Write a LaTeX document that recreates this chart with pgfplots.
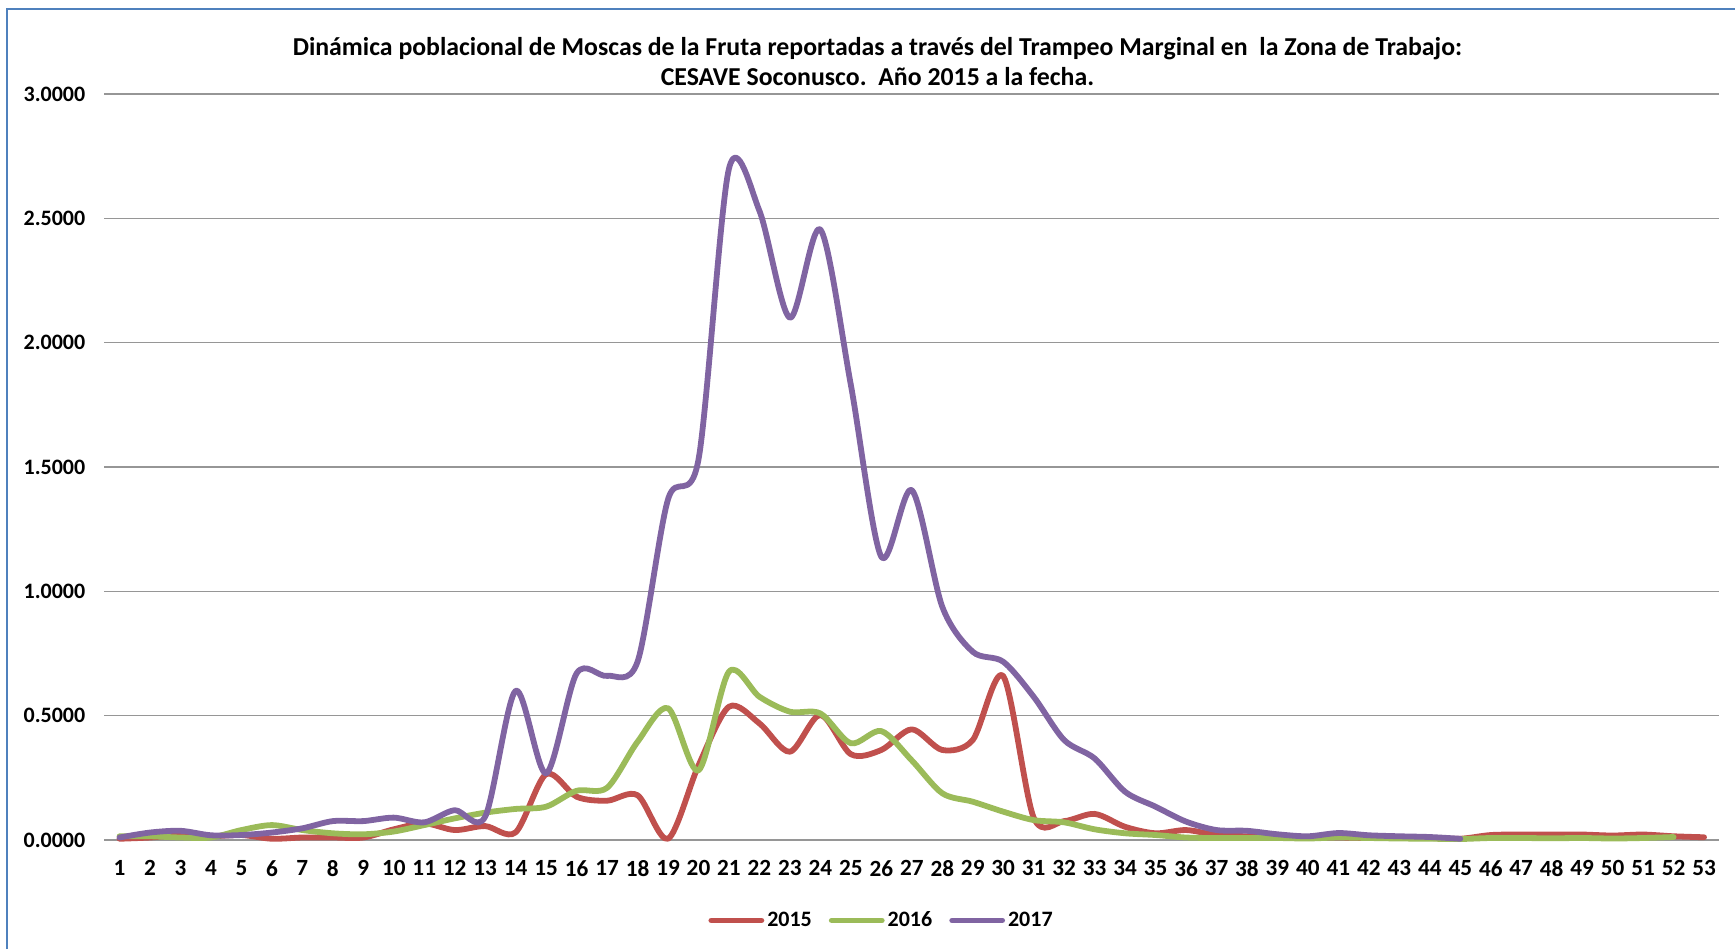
\documentclass[border=0pt]{standalone}
\usepackage{fontspec}
\setmainfont{Carlito}
\usepackage{pgfplots}
\pgfplotsset{compat=1.18}

\definecolor{s2015}{RGB}{192,80,77}
\definecolor{s2016}{RGB}{155,187,89}
\definecolor{s2017}{RGB}{128,100,162}
\definecolor{gridgray}{RGB}{150,150,150}
\definecolor{frameblue}{RGB}{79,129,189}

\begin{document}
\begin{tikzpicture}
\path[use as bounding box] (0,0) rectangle (867.5pt,474.5pt);
% chart frame (left and top edges)
\draw[frameblue, line width=1pt] (3.5pt,0pt) -- (3.5pt,470pt) -- (867.5pt,470pt);

\node[align=center, font=\fontsize{12.9}{15}\selectfont\bfseries] at (438.7pt,443.5pt)
  {Dinámica poblacional de Moscas de la Fruta reportadas a través del Trampeo Marginal en\ \ la Zona de Trabajo:\\
   CESAVE Soconusco.\ \ Año 2015 a la fecha.};

\begin{axis}[
  at={(52.15pt,54.5pt)}, anchor=south west,
  scale only axis, width=807.5pt, height=373pt,
  xmin=0.5, xmax=53.5, ymin=0, ymax=3,
  xtick={1,...,53},
  ytick={0,0.5,1,1.5,2,2.5,3},
  yticklabels={0.0000,0.5000,1.0000,1.5000,2.0000,2.5000,3.0000},
  /pgf/number format/assume math mode=true,
  yticklabel style={font=\fontsize{11}{13}\selectfont\bfseries, xshift=-6pt},
  xticklabel style={font=\fontsize{11.6}{13}\selectfont\bfseries, yshift=-6.6pt},
  axis line style={draw=none},
  tick style={draw=none},
  ymajorgrids,
  major grid style={gridgray, line width=0.75pt},
  clip=false,
  legend columns=3,
  legend style={draw=none, at={(0.4816,-0.1078)}, anchor=center,
    font=\fontsize{11}{13}\selectfont\bfseries,
    nodes={inner sep=1.5pt},
    /tikz/every even column/.append style={column sep=7pt}},
  legend image code/.code={\draw[#1] (0pt,0pt) -- (25pt,0pt);},
  every axis plot/.append style={line width=2.9pt, line cap=round, line join=round, smooth, tension=0.5},
]
% 2015
\addplot[s2015] table {
1 0.005
2 0.010
3 0.020
4 0.015
5 0.020
6 0.005
7 0.010
8 0.010
9 0.010
10 0.043
11 0.067
12 0.040
13 0.056
14 0.031
15 0.265
16 0.174
17 0.158
18 0.180
19 0.005
20 0.300
21 0.536
22 0.469
23 0.355
24 0.503
25 0.345
26 0.362
27 0.445
28 0.362
29 0.402
30 0.659
31 0.090
32 0.076
33 0.105
34 0.053
35 0.027
36 0.040
37 0.020
38 0.015
39 0.012
40 0.010
41 0.010
42 0.008
43 0.008
44 0.008
45 0.005
46 0.020
47 0.022
48 0.022
49 0.022
50 0.018
51 0.022
52 0.015
53 0.011
};
\addlegendentry{2015}
% 2016
\addplot[s2016] table {
1 0.015
2 0.015
3 0.010
4 0.010
5 0.040
6 0.060
7 0.040
8 0.027
9 0.023
10 0.034
11 0.060
12 0.087
13 0.110
14 0.125
15 0.134
16 0.198
17 0.210
18 0.395
19 0.530
20 0.280
21 0.677
22 0.576
23 0.516
24 0.509
25 0.389
26 0.438
27 0.320
28 0.188
29 0.154
30 0.114
31 0.080
32 0.071
33 0.043
34 0.027
35 0.020
36 0.010
37 0.008
38 0.008
39 0.008
40 0.006
41 0.010
42 0.008
43 0.006
44 0.005
45 0.004
46 0.008
47 0.008
48 0.007
49 0.008
50 0.006
51 0.008
52 0.012
};
\addlegendentry{2016}
% 2017
\addplot[s2017] table {
1 0.010
2 0.030
3 0.037
4 0.019
5 0.020
6 0.030
7 0.047
8 0.076
9 0.076
10 0.090
11 0.071
12 0.120
13 0.094
14 0.600
15 0.268
16 0.670
17 0.660
18 0.717
19 1.370
20 1.530
21 2.700
22 2.530
23 2.100
24 2.455
25 1.830
26 1.139
27 1.407
28 0.938
29 0.757
30 0.717
31 0.576
32 0.402
33 0.328
34 0.194
35 0.134
36 0.074
37 0.040
38 0.037
39 0.023
40 0.015
41 0.028
42 0.019
43 0.015
44 0.012
45 0.005
};
\addlegendentry{2017}
\end{axis}
\end{tikzpicture}
\end{document}
